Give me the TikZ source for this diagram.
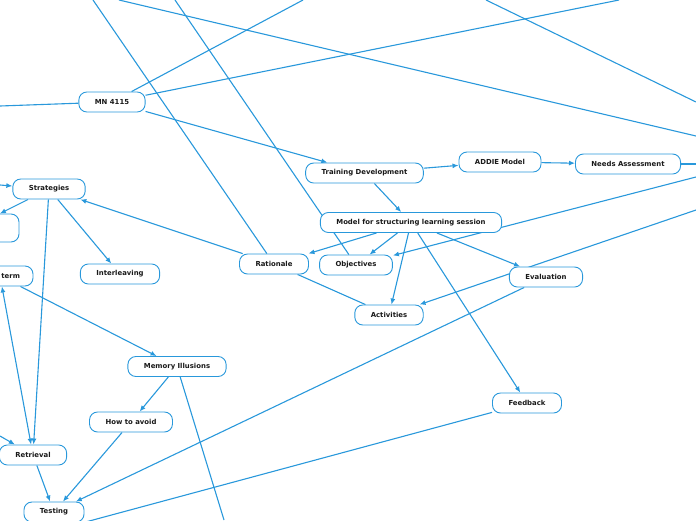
\documentclass[tikz,border=0pt]{standalone}
\usepackage{fontspec}
\setsansfont{DejaVu Sans}
\usetikzlibrary{arrows.meta,backgrounds}
\definecolor{mapblue}{RGB}{41,152,219}
\begin{document}
\begin{tikzpicture}[x=1pt, y=-1pt,
  topic/.style={draw=mapblue, fill=white, rounded corners=8pt, line width=.9pt,
    minimum height=20pt, inner xsep=16pt, inner ysep=0pt, text=black!90,
    font=\sffamily\bfseries\fontsize{6.9}{8}\selectfont},
  link/.style={draw=mapblue, line width=1.1pt},
  linkto/.style={link, -{Latex[length=6pt,width=5pt]}}]
\useasboundingbox (0,0) rectangle (696,520);
\clip (0,0) rectangle (696,520);
% topics
\node[topic] (mn)     at (112,102)   {MN 4115};
\node[topic] (train)  at (364.5,173) {Training Development};
\node[topic] (addie)  at (500,162)   {ADDIE Model};
\node[topic] (needs)  at (628,164)   {Needs Assessment};
\node[topic] (model)  at (411,222.5) {Model for structuring learning session};
\node[topic] (strat)  at (49,189)    {Strategies};
\node[topic, minimum width=96pt, minimum height=28pt] (tactic) at (-29,228) {};
\node[topic, inner xsep=13pt, text width=40pt, align=right] (term) at (0,276) {term};
\node[topic] (inter)  at (120,274)   {Interleaving};
\node[topic] (rat)    at (274,264)   {Rationale};
\node[topic] (obj)    at (356,265)   {Objectives};
\node[topic] (act)    at (389,315)   {Activities};
\node[topic] (eval)   at (546,277)   {Evaluation};
\node[topic] (memill) at (177,366.5) {Memory Illusions};
\node[topic] (avoid)  at (131,422)   {How to avoid};
\node[topic] (retr)   at (33,455)    {Retrieval};
\node[topic] (test)   at (54,512)    {Testing};
\node[topic] (feed)   at (527,403)   {Feedback};
% ends that leave the frame
\coordinate (mnW)    at (0,106);
\coordinate (mnN)    at (303,0);
\coordinate (mnNE)   at (619,0);
\coordinate (ratN)   at (93,0);
\coordinate (objN)   at (175,0);
\coordinate (crossA) at (119,0);
\coordinate (crossB) at (696,136);
\coordinate (crossC) at (486,0);
\coordinate (crossD) at (696,102);
\coordinate (needsE) at (696,164);
\coordinate (objE)   at (696,177);
\coordinate (actE)   at (696,210);
\coordinate (stratW) at (0,185);
\coordinate (retrW)  at (0,436);
\coordinate (memS)   at (224,520);
\coordinate (feedS)  at (80,523.5);
% connectors
\begin{scope}[on background layer]
\clip (0,0) rectangle (696,520);
\draw[link] (mn) -- (mnW);
\draw[link] (mn) -- (mnN);
\draw[link] (mn) -- (mnNE);
\draw[link] (ratN) -- (rat);
\draw[link] (objN) -- (obj);
\draw[link] (crossA) -- (crossB);
\draw[link] (crossC) -- (crossD);
\draw[linkto] (mn) -- (train);
\draw[linkto] (train) -- (addie);
\draw[linkto] (addie) -- (needs);
\draw[link] (needs) -- (needsE);
\draw[linkto] (train) -- (model);
\draw[linkto] (model) -- (rat);
\draw[linkto] (model) -- (obj);
\draw[linkto] (model) -- (act);
\draw[linkto] (model) -- (eval);
\draw[linkto] (model) -- (feed);
\draw[linkto] (objE) -- (obj);
\draw[linkto] (actE) -- (act);
\draw[linkto] (rat) -- (strat);
\draw[link] (rat) -- (act);
\draw[linkto] (eval) -- (test);
\draw[link] (feed) -- (feedS);
\draw[linkto] (stratW) -- (strat);
\draw[linkto] (strat) -- (tactic);
\draw[linkto] (strat) -- (inter);
\draw[linkto] (strat) -- (retr);
\draw[{Latex[length=6pt,width=5pt]}-{Latex[length=6pt,width=5pt]}, link] (term) -- (retr);
\draw[linkto] (term) -- (memill);
\draw[linkto] (memill) -- (avoid);
\draw[link] (memill) -- (memS);
\draw[linkto] (avoid) -- (test);
\draw[linkto] (retrW) -- (retr);
\draw[linkto] (retr) -- (test);
\end{scope}
\end{tikzpicture}
\end{document}
